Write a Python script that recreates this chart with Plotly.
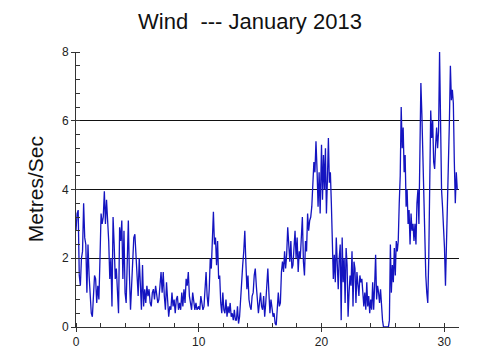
import numpy as np
import plotly.graph_objects as go

# Wind speed readings (m/s) in three stretches of the month
seg_a_days = (0.0, 9.86)
seg_a = [2.8, 3.3, 3.4, 1.5, 1.2, 2.0, 2.2, 3.6, 2.6, 2.4, 1.0, 2.4, 1.5, 0.9, 0.4, 0.3, 0.9, 1.5, 1.4, 0.7,
         1.2, 0.8, 2.0, 3.3, 3.0, 3.2, 3.95, 3.0, 3.7, 3.2, 2.5, 1.4, 2.0, 0.6, 3.2, 2.4, 1.4, 1.7, 1.2, 0.4,
         2.9, 2.5, 3.1, 1.4, 2.8, 1.0, 0.7, 2.3, 3.1, 1.5, 0.5, 1.2, 2.0, 2.6, 2.7, 2.0, 1.6, 0.9, 2.0, 1.0,
         0.5, 1.8, 0.6, 1.1, 0.7, 1.2, 0.9, 1.1, 0.7, 0.6, 1.0, 1.1, 0.8, 1.2, 0.9, 0.7, 0.8, 1.4, 1.6, 1.0,
         1.6, 0.9, 0.5, 1.3, 0.8, 0.3, 0.6, 0.5, 1.0, 0.6, 0.8, 0.4, 0.8, 0.9, 0.5, 0.7, 0.5, 1.0, 0.6, 1.1,
         0.7, 1.4, 1.2, 1.6, 0.9, 0.7, 0.5, 1.0, 0.7, 0.5, 0.7, 0.5]

seg_b_days = (10.0, 19.89)
seg_b = [0.6, 0.5, 0.9, 0.6, 0.5, 0.6, 1.0, 1.6, 0.9, 0.6, 1.1, 2.0, 1.7, 2.5, 3.35, 2.4, 2.6, 1.8, 2.5, 1.4,
         1.5, 0.7, 0.4, 1.0, 0.5, 0.4, 0.8, 0.3, 0.6, 0.4, 0.7, 0.3, 0.4, 0.2, 0.5, 0.2, 0.2, 0.6, 0.1, 0.3,
         0.9, 1.6, 1.8, 2.2, 2.8, 1.9, 1.1, 1.5, 0.8, 0.6, 0.5, 0.9, 1.0, 1.5, 1.7, 1.2, 0.6, 0.4, 0.7, 1.0,
         0.6, 0.5, 0.9, 0.3, 0.7, 1.4, 1.7, 1.0, 0.4, 0.8, 0.5, 0.3, 0.4, 0.1, 0.05, 0.5, 1.0, 0.6, 0.7, 1.6,
         1.9, 1.6, 2.2, 1.7, 2.1, 2.9, 2.2, 1.9, 2.5, 1.7, 1.8, 2.3, 2.8, 2.0, 2.6, 1.6, 2.2, 2.0, 2.8, 3.2,
         1.9, 1.5, 2.5, 2.2, 3.3, 2.8, 3.1, 3.2, 3.5, 4.0, 4.8, 4.5, 5.4, 4.6, 3.5, 4.5, 3.3]

seg_c_days = (20.0, 31.06)
seg_c = [5.3, 3.7, 5.0, 4.0, 5.2, 3.3, 4.3, 5.5, 4.2, 4.5, 3.6, 2.5, 1.4, 2.1, 1.3, 2.6, 1.8, 1.1, 2.0, 2.4,
         0.2, 2.6, 1.3, 2.0, 0.7, 2.3, 1.8, 0.3, 1.0, 1.5, 1.2, 2.2, 0.6, 1.9, 1.7, 0.7, 1.6, 1.2, 0.9, 1.5,
         1.3, 1.4, 0.8, 0.6, 1.0, 0.5, 1.3, 0.6, 0.9, 0.4, 0.8, 0.5, 1.3, 0.5, 1.2, 2.1, 0.8, 1.2, 1.0, 0.7,
         1.1, 0.6, 0.2, 0.0, 0.0, 0.0, 0.0, 0.0, 0.0, 0.2, 2.4, 1.0, 1.8, 1.3, 2.3, 1.5, 2.5, 2.2, 2.5, 3.6,
         4.4, 6.4, 5.2, 5.8, 4.5, 5.0, 3.5, 4.0, 3.0, 3.4, 2.4, 3.3, 2.8, 3.0, 2.5, 3.0, 2.4, 3.6, 4.0, 3.0,
         5.5, 7.1, 6.2, 5.0, 3.6, 3.0, 1.5, 1.0, 0.7, 2.0, 4.5, 6.3, 5.5, 6.0, 4.8, 4.6, 5.3, 5.8, 5.2, 5.7,
         8.0, 5.8, 4.0, 3.5, 3.0, 2.3, 1.2, 2.3, 3.5, 4.5, 6.0, 7.6, 6.6, 6.9, 6.5, 4.8, 3.6, 4.5, 4.0]

x_ticks = [0, 10, 20, 30]
y_ticks = [0, 2, 4, 6, 8]

days = np.concatenate([
    np.linspace(seg_a_days[0], seg_a_days[1], len(seg_a)),
    np.linspace(seg_b_days[0], seg_b_days[1], len(seg_b)),
    np.linspace(seg_c_days[0], seg_c_days[1], len(seg_c)),
])
speed = seg_a + seg_b + seg_c

fig = go.Figure()
fig.add_trace(go.Scatter(x=days, y=speed, mode="lines",
                         line=dict(color="#1414c0", width=1.3),
                         hoverinfo="skip", showlegend=False))

font = "Arial, Liberation Sans, sans-serif"
fig.update_layout(
    width=500, height=361,
    margin=dict(l=76, r=41, t=52, b=34),
    paper_bgcolor="white", plot_bgcolor="white",
    font=dict(family=font, color="#222222", size=12),
    title=dict(text="Wind\u00a0\u00a0--- January 2013", x=0.5, xanchor="center",
               y=0.94, yanchor="middle", font=dict(size=22, color="#111111", family=font)),
    annotations=[dict(text="Metres/Sec", textangle=-90, xref="paper", yref="paper",
                      x=-0.105, y=0.5, xanchor="center", yanchor="middle", showarrow=False,
                      font=dict(size=21, color="#111111", family=font))],
)
fig.update_xaxes(range=[0, 31.2], tickvals=x_ticks, showgrid=False, zeroline=False,
                 showline=True, linecolor="#333333", linewidth=1,
                 ticks="outside", ticklen=4, tickcolor="#333333",
                 minor=dict(dtick=2, tick0=0, ticks="inside", ticklen=4, tickcolor="#333333", showgrid=False))
fig.update_yaxes(range=[0, 8], tickvals=y_ticks, showgrid=True, gridcolor="#111111", gridwidth=1,
                 zeroline=False, showline=True, linecolor="#333333", linewidth=1,
                 ticks="outside", ticklen=4, tickcolor="#333333",
                 minor=dict(dtick=0.4, tick0=0, ticks="inside", ticklen=4, tickcolor="#333333", showgrid=False))

fig.write_html("out.html")
